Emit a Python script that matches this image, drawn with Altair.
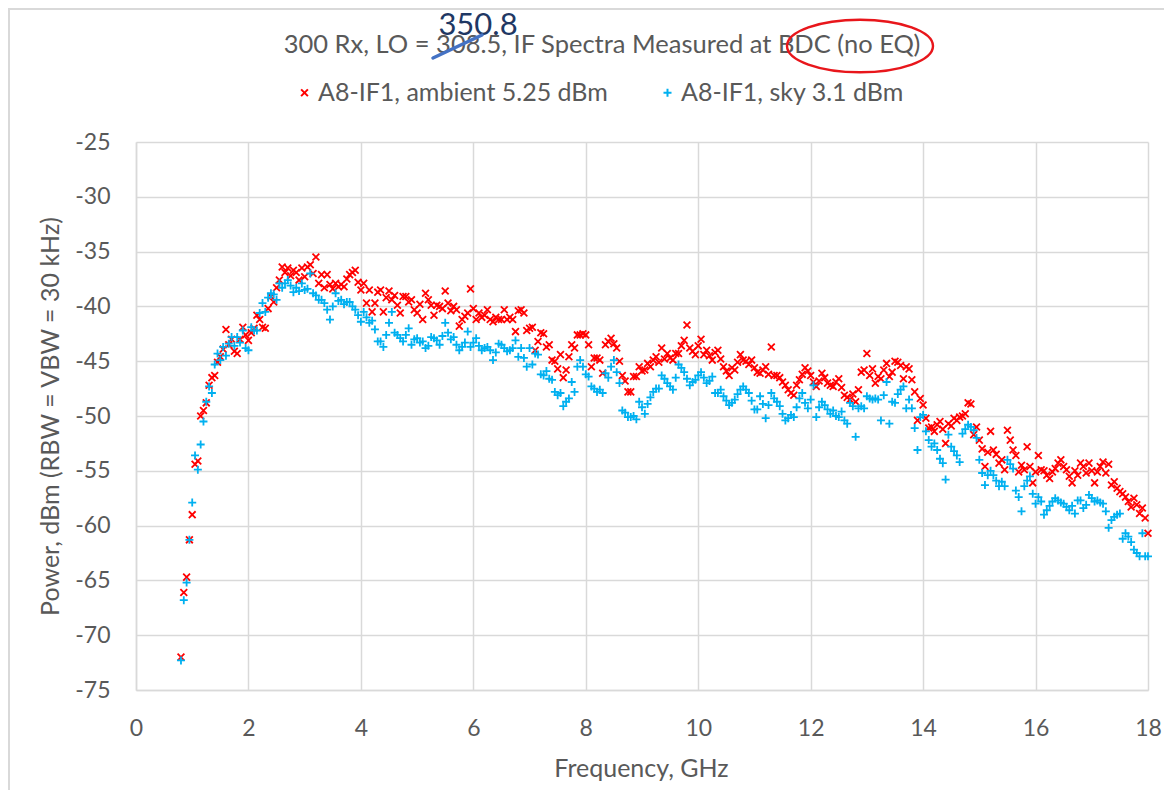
import altair as alt
import pandas as pd

# Sweep grid: 0.80 GHz to 18.00 GHz in 0.05 GHz steps (345 points)
FREQ_START_GHZ = 0.80
FREQ_STEP_GHZ = 0.05

AMBIENT_DBM = [
    -72.0, -66.1, -64.7, -61.3, -59.0, -54.4, -54.1, -50.0, -49.5, -48.8, -47.2, -46.5, -46.3, -45.1, -44.6, -43.9, -42.1, -43.5, -43.0, -44.1,
    -44.3, -43.0, -41.9, -42.6, -43.1, -42.4, -42.0, -40.8, -41.2, -41.9, -42.0, -40.2, -39.1, -39.6, -38.3, -37.6, -36.4, -36.9, -36.5, -37.2,
    -36.7, -36.9, -37.6, -36.5, -37.3, -36.4, -36.2, -37.0, -35.5, -37.9, -37.1, -38.3, -37.1, -38.0, -38.4, -37.9, -38.2, -38.0, -38.2, -37.5,
    -37.1, -36.9, -36.7, -37.8, -38.5, -37.9, -39.7, -38.5, -40.5, -39.7, -38.7, -38.5, -40.5, -39.2, -38.6, -39.4, -39.0, -39.9, -40.6, -39.1,
    -39.1, -39.6, -39.4, -40.3, -40.6, -39.8, -41.2, -38.8, -39.4, -39.9, -40.8, -39.9, -40.0, -40.2, -38.6, -39.7, -40.4, -40.0, -40.3, -41.8,
    -41.2, -40.9, -40.6, -38.4, -40.2, -41.2, -40.6, -41.0, -40.8, -40.3, -41.2, -41.4, -41.0, -41.2, -41.2, -40.3, -41.2, -41.0, -41.2, -42.3,
    -40.4, -40.3, -40.6, -42.2, -42.0, -41.9, -44.0, -43.2, -42.4, -42.5, -43.7, -43.5, -44.9, -45.0, -45.7, -44.4, -46.5, -45.8, -44.6, -43.5,
    -43.8, -42.6, -42.6, -42.5, -42.6, -43.5, -45.5, -44.7, -44.7, -44.9, -46.1, -43.5, -43.2, -42.9, -43.4, -43.8, -45.0, -46.3, -46.8, -47.8,
    -47.8, -46.4, -46.4, -45.5, -45.9, -45.8, -45.2, -45.5, -44.9, -44.6, -45.1, -43.8, -44.8, -44.3, -44.7, -44.9, -44.3, -44.3, -43.6, -43.1,
    -41.7, -43.8, -44.1, -44.4, -43.6, -43.0, -44.4, -44.0, -44.5, -44.9, -44.2, -44.0, -44.8, -45.5, -45.9, -46.3, -45.6, -45.8, -45.1, -44.4,
    -44.9, -45.0, -45.3, -44.9, -45.6, -46.0, -46.1, -45.8, -45.5, -46.2, -43.7, -46.3, -46.3, -46.5, -46.9, -47.2, -47.6, -47.9, -48.1, -47.2,
    -46.7, -46.2, -45.6, -45.9, -46.3, -46.9, -47.3, -46.8, -46.1, -46.5, -47.0, -47.2, -47.3, -46.9, -46.6, -47.4, -48.1, -48.3, -48.5, -48.0,
    -48.7, -47.6, -46.0, -45.8, -44.3, -46.3, -45.7, -47.0, -46.4, -46.6, -45.8, -45.2, -46.4, -46.0, -45.0, -45.1, -45.4, -46.6, -45.5, -45.7,
    -46.7, -47.8, -50.4, -48.4, -49.0, -50.2, -51.1, -51.0, -51.4, -50.8, -50.5, -51.2, -52.5, -50.7, -50.9, -50.2, -50.4, -50.1, -50.0, -49.8,
    -48.8, -48.9, -51.7, -51.0, -52.2, -53.0, -54.6, -53.3, -51.4, -53.1, -53.5, -54.3, -54.0, -54.9, -51.3, -52.2, -53.1, -53.6, -55.1, -54.5,
    -54.9, -52.8, -54.6, -56.1, -55.1, -53.6, -54.9, -55.0, -55.4, -55.7, -55.1, -54.8, -54.3, -54.0, -54.6, -54.9, -55.5, -56.1, -55.0, -55.4,
    -54.3, -54.6, -55.2, -54.3, -55.0, -56.1, -55.1, -54.6, -54.2, -55.2, -54.4, -56.3, -56.0, -56.6, -56.9, -57.1, -57.4, -57.8, -58.3, -57.5,
    -58.1, -58.9, -58.4, -59.3, -60.7,
]

SKY_DBM = [
    -72.3, -66.8, -65.2, -61.3, -57.9, -53.6, -54.9, -52.6, -50.5, -48.7, -47.3, -47.9, -45.3, -44.3, -44.9, -43.7, -44.5, -43.4, -42.8, -43.6,
    -42.8, -43.3, -42.2, -43.8, -44.0, -41.9, -42.2, -42.2, -40.6, -39.7, -40.5, -39.2, -38.8, -38.9, -39.4, -37.9, -38.3, -37.9, -37.6, -38.1,
    -38.7, -38.3, -38.6, -37.9, -38.5, -38.4, -37.0, -38.8, -39.0, -39.4, -39.4, -39.7, -40.3, -41.2, -40.0, -38.8, -39.5, -39.4, -39.8, -39.6,
    -39.6, -40.0, -40.3, -40.8, -41.4, -40.5, -41.0, -41.5, -41.3, -42.1, -43.2, -43.2, -43.7, -42.6, -41.5, -40.5, -42.4, -42.6, -42.9, -43.2,
    -42.6, -42.0, -43.5, -43.0, -42.9, -43.3, -43.2, -43.8, -43.6, -42.8, -42.9, -43.1, -43.5, -42.7, -41.5, -42.4, -43.0, -42.8, -43.5, -44.0,
    -43.7, -43.3, -42.3, -43.7, -43.3, -42.9, -43.6, -44.0, -43.8, -43.7, -44.0, -44.9, -44.2, -43.4, -43.5, -43.8, -44.1, -44.0, -43.8, -43.1,
    -44.6, -43.8, -44.7, -45.5, -43.8, -45.3, -44.3, -44.4, -46.2, -46.3, -45.9, -46.6, -46.7, -47.8, -48.1, -47.9, -49.1, -48.7, -48.4, -46.9,
    -47.8, -45.5, -44.9, -45.5, -46.2, -46.4, -47.3, -47.5, -47.8, -47.6, -47.9, -46.1, -46.5, -45.5, -44.9, -46.0, -47.0, -49.5, -49.7, -50.1,
    -50.1, -50.0, -50.3, -48.7, -49.2, -49.8, -48.9, -48.3, -47.8, -47.5, -47.5, -46.3, -46.6, -47.0, -47.3, -47.6, -46.5, -45.3, -45.6, -46.0,
    -46.6, -47.2, -46.9, -46.7, -46.3, -46.0, -46.5, -47.0, -46.8, -46.4, -47.9, -47.9, -47.6, -48.2, -48.6, -49.0, -48.8, -48.5, -48.0, -47.6,
    -47.3, -47.6, -47.9, -48.6, -49.4, -49.4, -48.2, -48.9, -50.2, -49.0, -47.9, -48.4, -48.7, -49.1, -49.8, -50.4, -50.2, -49.9, -50.1, -49.2,
    -48.4, -47.9, -48.8, -49.3, -48.5, -47.2, -50.1, -49.2, -48.7, -49.0, -49.4, -49.8, -49.5, -50.0, -50.1, -49.6, -50.4, -50.7, -48.8, -49.1,
    -51.9, -49.3, -49.1, -49.3, -48.2, -48.4, -48.5, -48.4, -48.5, -50.4, -48.1, -46.9, -50.7, -48.7, -48.8, -48.0, -47.6, -47.3, -49.3, -48.5,
    -49.3, -51.1, -53.1, -50.1, -49.9, -51.4, -52.2, -52.8, -52.5, -53.1, -53.9, -54.3, -55.8, -51.7, -52.8, -53.2, -53.6, -54.2, -51.6, -51.2,
    -50.8, -51.0, -51.3, -52.0, -54.0, -55.2, -56.3, -55.4, -55.0, -55.4, -55.9, -56.4, -56.0, -56.4, -54.0, -54.4, -54.8, -56.8, -57.4, -58.7,
    -56.4, -55.9, -55.5, -57.1, -58.0, -57.4, -57.8, -59.0, -58.6, -58.2, -57.8, -57.5, -57.7, -57.9, -58.0, -58.3, -58.6, -58.2, -58.9, -57.7,
    -57.7, -58.4, -58.1, -57.2, -57.5, -57.8, -57.7, -57.9, -58.0, -58.7, -60.2, -59.5, -59.2, -59.0, -58.9, -61.2, -60.7, -61.0, -61.5, -62.2,
    -62.5, -62.8, -60.7, -62.8, -62.8,
]

SERIES_NAMES = ["A8-IF1, ambient 5.25 dBm", "A8-IF1, sky 3.1 dBm"]
SERIES_COLORS = ["#ff0000", "#00b0f0"]
X_TICKS = [0, 2, 4, 6, 8, 10, 12, 14, 16, 18]
Y_TICKS = [-75, -70, -65, -60, -55, -50, -45, -40, -35, -30, -25]

TITLE_TEXT = "300 Rx, LO = 308.5, IF Spectra Measured at BDC (no EQ)"
NOTE_TEXT = "350.8"

assert len(AMBIENT_DBM) == len(SKY_DBM) == 345
freqs = [round(FREQ_START_GHZ + FREQ_STEP_GHZ * i, 2) for i in range(len(AMBIENT_DBM))]

rows = []
for name, vals in zip(SERIES_NAMES, [AMBIENT_DBM, SKY_DBM]):
    for f, v in zip(freqs, vals):
        rows.append({"freq": f, "power": v, "series": name})
df = pd.DataFrame(rows)

FONT = "Lato"
GREY = "#595959"
W, H = 1012, 548

X_PATH = "M -0.85 -0.85 L 0.85 0.85 M -0.85 0.85 L 0.85 -0.85"
PLUS_PATH = "M -1 0 L 1 0 M 0 -1 L 0 1"

legend_cfg = dict(title=None, orient="none", direction="horizontal",
                  legendX=156, legendY=-62, labelFont=FONT,
                  labelFontSize=25, labelColor=GREY, labelOffset=1, labelLimit=0,
                  columnPadding=47, symbolStrokeWidth=2, symbolSize=64, padding=0)

points = alt.Chart(df).mark_point(
    filled=False, opacity=1, size=64, strokeWidth=1.8
).encode(
    x=alt.X("freq:Q",
            scale=alt.Scale(domain=[0, 18], nice=False, zero=False),
            axis=alt.Axis(values=X_TICKS, title="Frequency, GHz", labelPadding=27,
                          labelFlush=False, labelExpr="'' + datum.value",
                          titleX=505, titleY=78, titleBaseline="middle",
                          titleAlign="center")),
    y=alt.Y("power:Q",
            scale=alt.Scale(domain=[-75, -25], nice=False, zero=False),
            axis=alt.Axis(values=Y_TICKS, title="Power, dBm (RBW = VBW = 30 kHz)",
                          labelPadding=26, labelFlush=False, labelExpr="'' + datum.value",
                          titleX=-86, titleY=274,
                          titleAngle=270, titleBaseline="middle", titleAlign="center")),
    color=alt.Color("series:N",
                    scale=alt.Scale(domain=SERIES_NAMES, range=SERIES_COLORS),
                    legend=alt.Legend(**legend_cfg)),
    shape=alt.Shape("series:N",
                    scale=alt.Scale(domain=SERIES_NAMES, range=[X_PATH, PLUS_PATH]),
                    legend=alt.Legend(**legend_cfg)),
)

one = alt.Data(values=[{}])

title = alt.Chart(one).mark_text(
    text=TITLE_TEXT, font=FONT, fontSize=25.5, color=GREY, align="center", baseline="middle"
).encode(x=alt.value(466), y=alt.value(-97))

note = alt.Chart(one).mark_text(
    text=NOTE_TEXT, font=FONT, fontSize=31, color="#1f3864", align="center", baseline="top"
).encode(x=alt.value(342), y=alt.value(-131))

strike = alt.Chart(one).mark_rule(color="#4472c4", strokeWidth=3.5, strokeCap="round").encode(
    x=alt.value(297), y=alt.value(-84), x2=alt.value(346), y2=alt.value(-107)
)

ELLIPSE_PATH = "M -1 0 A 1 0.36 0 1 1 1 0 A 1 0.36 0 1 1 -1 0 Z"
ellipse = alt.Chart(one).mark_point(
    shape=ELLIPSE_PATH, size=146 * 146, filled=False, opacity=1, color="#e8161b", strokeWidth=2.4
).encode(x=alt.value(724), y=alt.value(-96))

frame_top = alt.Chart(one).mark_rule(color="#d9d9d9", strokeWidth=2).encode(
    x=alt.value(-128), x2=alt.value(1028), y=alt.value(-133)
)
frame_left = alt.Chart(one).mark_rule(color="#d9d9d9", strokeWidth=2).encode(
    x=alt.value(-127), y=alt.value(-134), y2=alt.value(648)
)

chart = alt.layer(
    frame_top, frame_left, points, title, note, strike, ellipse
).properties(
    width=W, height=H,
    autosize=alt.AutoSizeParams(type="none"),
    padding={"left": 128, "top": 134, "right": 16, "bottom": 100},
).configure_axis(
    labelFont=FONT, labelFontSize=23, labelColor=GREY,
    titleFont=FONT, titleFontSize=25, titleColor=GREY, titleFontWeight="normal",
    gridColor="#d9d9d9", gridWidth=1.5, domainColor="#d9d9d9", domainWidth=1.5,
    ticks=False,
).configure_view(strokeWidth=0)

chart.save("out.html", embed_options={"renderer": "svg", "actions": False})
